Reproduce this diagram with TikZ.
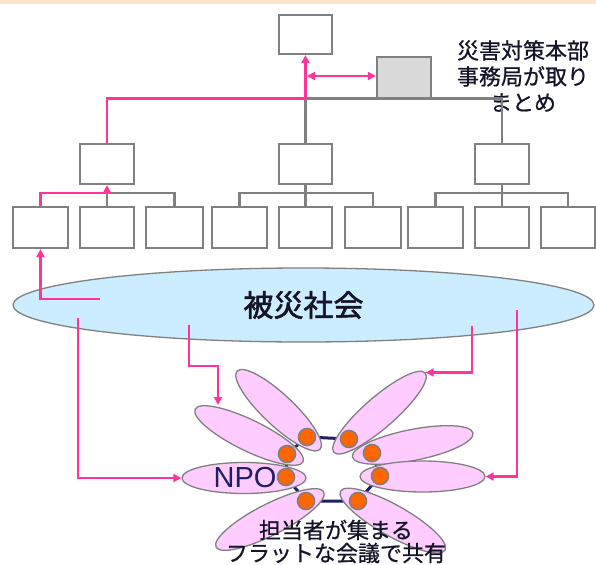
\documentclass[tikz,border=0pt]{standalone}
\usepackage{fontspec}
\setmainfont{Liberation Sans}
\newfontfamily\jp{Noto Sans CJK JP}[FakeBold=0.8]
\newfontfamily\jpb{Noto Sans CJK JP}[FakeBold=1.8]
\usetikzlibrary{arrows.meta,shapes.geometric,calc}
\definecolor{pk}{RGB}{255,51,153}
\definecolor{gr}{RGB}{128,128,128}
\definecolor{sky}{RGB}{204,236,255}
\definecolor{lil}{RGB}{255,204,255}
\definecolor{org}{RGB}{255,102,0}
\definecolor{navy}{RGB}{31,31,100}
\definecolor{peach}{RGB}{252,228,204}
\definecolor{ink}{RGB}{20,20,40}
\begin{document}
\begin{tikzpicture}[x=1pt,y=-1pt,line join=miter,
  box/.style={rectangle,draw=gr,line width=2.2pt,fill=white,minimum height=40pt,inner sep=0pt},
  gl/.style={draw=gr,line width=2.2pt},
  pl/.style={draw=pk,line width=2.4pt},
  pa/.style={pl,-{Triangle[length=8pt,width=8pt]}},
  petal/.style={ellipse,draw=gr,line width=1.3pt,fill=lil,minimum height=31pt,inner sep=0pt},
  dot/.style={circle,fill=org,draw=gr,line width=1.6pt,minimum size=17pt,inner sep=0pt},
  jptext/.style={text=ink,align=center,inner sep=0pt}]
\useasboundingbox (0,0) rectangle (596,564);
\fill[peach] (0,0) rectangle (596,4);

% top boxes
\node[box,minimum width=53pt,minimum height=39pt] (tb) at (305.5,34.5) {};
\node[box,minimum width=54pt,minimum height=41pt,fill={rgb,255:red,217;green,217;blue,217}] (gb) at (404,77.5) {};
\node[jptext,font=\jp\fontsize{22}{26}\selectfont] (hq) at (523,76) {災害対策本部\\事務局が取り\\まとめ};

% middle row
\node[box,minimum width=54pt] (m1) at (107,164) {};
\node[box,minimum width=53pt] (m2) at (305.5,164) {};
\node[box,minimum width=54pt] (m3) at (502,164) {};

% bottom row
\node[box,minimum width=55pt,minimum height=41pt] (b1) at (40.5,227.5) {};
\node[box,minimum width=54pt,minimum height=41pt] (b2) at (107,227.5) {};
\node[box,minimum width=57pt,minimum height=41pt] (b3) at (174.5,227.5) {};
\node[box,minimum width=55pt,minimum height=41pt] (b4) at (239.5,227.5) {};
\node[box,minimum width=53pt,minimum height=41pt] (b5) at (305.5,227.5) {};
\node[box,minimum width=56pt,minimum height=41pt] (b6) at (373,227.5) {};
\node[box,minimum width=55pt,minimum height=41pt] (b7) at (435.5,227.5) {};
\node[box,minimum width=54pt,minimum height=41pt] (b8) at (502,227.5) {};
\node[box,minimum width=54pt,minimum height=41pt] (b9) at (568,227.5) {};

\coordinate (hb) at (305.5,98.5);

% gray connectors
\draw[gl] (m2.north) |- (m3.north |- hb) -- (m3.north);
\draw[gl] (m2.south) -- (b5.north);
\draw[gl] (m3.south) -- (b8.north);
\draw[gl] (b2.north) -- ++(0,-13) -| (b3.north);
\draw[gl] (b4.north) -- ++(0,-13) -| (b6.north);
\draw[gl] (b7.north) -- ++(0,-13) -| (b9.north);

% pink connectors (top)
\draw[pa] (m1.north) |- (hb) -- (tb.south);
\coordinate (da) at (307,76);
\draw[pl,{Triangle[length=8pt,width=8pt]}-{Triangle[length=8pt,width=8pt]}] (da) -- (da -| gb.west);
\draw[pa] (b1.north) |- ($(b2.north)+(0,-13)$) -- (m1.south);

% society ellipse
\node[ellipse,draw=gr,line width=1.3pt,fill=sky,minimum width=581pt,minimum height=74pt,inner sep=0pt,
      font=\jpb\fontsize{30}{30}\selectfont,text=ink] (soc) at (303.5,305) {被災社会};

% flower ring coordinates
\coordinate (c1) at (307,437);
\coordinate (c2) at (349,439);
\coordinate (c3) at (287,454);
\coordinate (c4) at (372,453);
\coordinate (c5) at (286,477);
\coordinate (c6) at (380,476);
\coordinate (c7) at (306,501);
\coordinate (c8) at (358,501);
\draw[navy,line width=3pt] (c1) -- (c2) -- (c4) -- (c6) -- (c8) -- (c7) -- (c5) -- (c3) -- cycle;

% petals
\node[petal,minimum width=114pt,rotate=-43.3] (p1) at (278.6,410.2) {};
\node[petal,minimum width=121pt,rotate=-139.0] (p2) at (379.5,412.6) {};
\node[petal,minimum width=120pt,rotate=-26.0] (p3) at (249.1,435.5) {};
\node[petal,minimum width=123pt,rotate=-168.8] (p4) at (412.7,445) {};
\node[petal,minimum width=124pt] (p5) at (244,478) {};
\node[petal,minimum width=125pt,rotate=180] (p6) at (422.5,476.5) {};
\node[petal,minimum width=121pt,rotate=27.1] (p7) at (269.9,519.5) {};
\node[petal,minimum width=120pt,rotate=150.6] (p8) at (392.8,520.6) {};

\node[font=\fontsize{29}{29}\selectfont,text=navy,inner sep=0pt] (npo) at (245,478) {NPO};

\foreach \i in {1,...,8} { \node[dot] (d\i) at (c\i) {}; }

\node[jptext,font=\jp\fontsize{22}{23}\selectfont] (meet) at (336,541.5) {担当者が集まる\\フラットな会議で共有};

% pink connectors from society
\coordinate (e0) at (100,299);
\draw[pa] (e0) -| (b1.south);
\coordinate (eA) at (78,318);
\draw[pa] (eA) |- (p5.west);
\coordinate (eB) at (189,325);
\coordinate (tB) at (218,405);
\draw[pa] (eB) -- ++(0,41) -| (tB);
\coordinate (eC) at (472,326);
\draw[pa] (eC) |- (p2.west);
\coordinate (eD) at (517,310);
\draw[pa] (eD) |- (p6.west);
\end{tikzpicture}
\end{document}
